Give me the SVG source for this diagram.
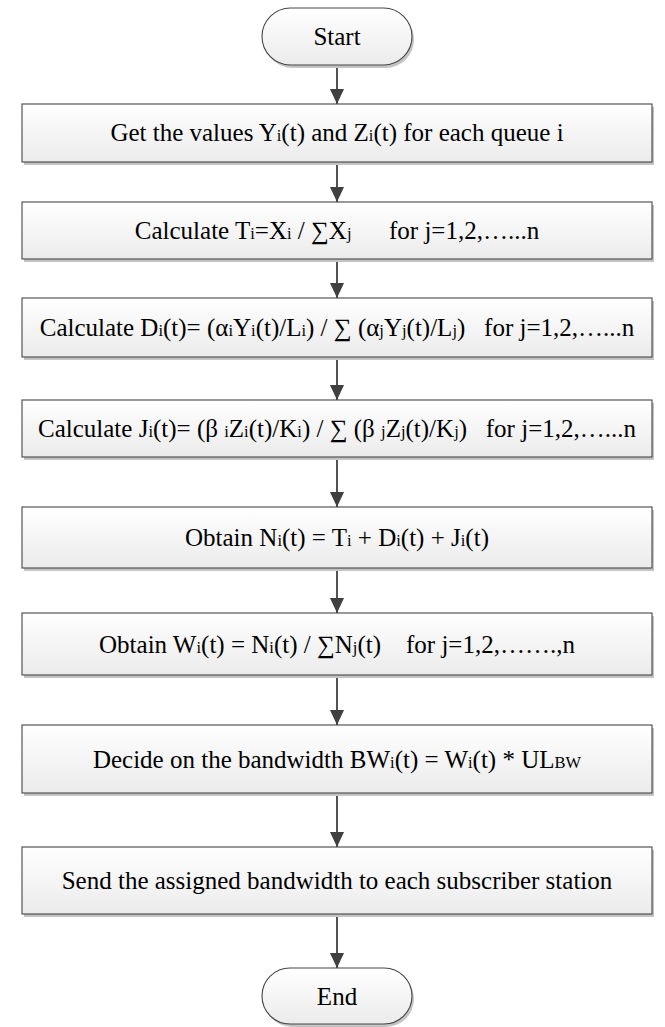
<svg xmlns="http://www.w3.org/2000/svg" width="665" height="1027" viewBox="0 0 665 1027">
<defs>
<linearGradient id="g" x1="0" y1="0" x2="0" y2="1"><stop offset="0" stop-color="#ffffff"/><stop offset="1" stop-color="#ebebeb"/></linearGradient>
<marker id="a" markerWidth="15" markerHeight="14" refX="15" refY="7" orient="auto" markerUnits="userSpaceOnUse"><path d="M0,0 L15,7 L0,14 Z" fill="#404040"/></marker>
</defs>
<style>
.box{fill:url(#g);stroke:#454545;stroke-width:1.1}
.sh{fill:#c4c4c4}
.t{font-family:"Liberation Serif","Times New Roman","DejaVu Serif",serif;font-size:25px;fill:#000;text-anchor:middle}
.s{font-size:16.5px}
.c{stroke:#404040;stroke-width:1.8;fill:none;marker-end:url(#a)}
</style>
<g id="connectors">
<line class="c" x1="337" y1="66" x2="337" y2="104"/>
<line class="c" x1="337" y1="163" x2="337" y2="202"/>
<line class="c" x1="337" y1="260" x2="337" y2="298"/>
<line class="c" x1="337" y1="358" x2="337" y2="400"/>
<line class="c" x1="337" y1="458" x2="337" y2="507"/>
<line class="c" x1="337" y1="569" x2="337" y2="613"/>
<line class="c" x1="337" y1="676" x2="337" y2="725"/>
<line class="c" x1="337" y1="794" x2="337" y2="847"/>
<line class="c" x1="337" y1="915" x2="337" y2="968"/>
</g>
<g id="start">
<rect class="sh" x="264" y="11" width="150" height="57" rx="28.5"/>
<rect class="box" x="262" y="8" width="150" height="57" rx="28.5"/>
<text class="t" x="337" y="45">Start</text>
</g>
<g id="n1">
<rect class="sh" x="24" y="107" width="630" height="58"/>
<rect class="box" x="22" y="104" width="630" height="58"/>
<text class="t" x="337" y="141">Get the values Y<tspan class="s">i</tspan>(t) and Z<tspan class="s">i</tspan>(t) for each queue i</text>
</g>
<g id="n2">
<rect class="sh" x="24" y="205" width="630" height="57"/>
<rect class="box" x="22" y="202" width="630" height="57"/>
<text class="t" x="337" y="239" xml:space="preserve">Calculate T<tspan class="s">i</tspan>=X<tspan class="s">i</tspan> / ∑X<tspan class="s">j</tspan>      for j=1,2,…...n</text>
</g>
<g id="n3">
<rect class="sh" x="24" y="301" width="630" height="59"/>
<rect class="box" x="22" y="298" width="630" height="59"/>
<text class="t" x="337" y="336" xml:space="preserve">Calculate D<tspan class="s">i</tspan>(t)= (α<tspan class="s">i</tspan>Y<tspan class="s">i</tspan>(t)/L<tspan class="s">i</tspan>) / ∑ (α<tspan class="s">j</tspan>Y<tspan class="s">j</tspan>(t)/L<tspan class="s">j</tspan>)   for j=1,2,…...n</text>
</g>
<g id="n4">
<rect class="sh" x="24" y="403" width="630" height="57"/>
<rect class="box" x="22" y="400" width="630" height="57"/>
<text class="t" x="337" y="437" xml:space="preserve">Calculate J<tspan class="s">i</tspan>(t)= (β <tspan class="s">i</tspan>Z<tspan class="s">i</tspan>(t)/K<tspan class="s">i</tspan>) / ∑ (β <tspan class="s">j</tspan>Z<tspan class="s">j</tspan>(t)/K<tspan class="s">j</tspan>)   for j=1,2,…...n</text>
</g>
<g id="n5">
<rect class="sh" x="24" y="510" width="630" height="61"/>
<rect class="box" x="22" y="507" width="630" height="61"/>
<text class="t" x="337" y="546">Obtain N<tspan class="s">i</tspan>(t) = T<tspan class="s">i</tspan> + D<tspan class="s">i</tspan>(t) + J<tspan class="s">i</tspan>(t)</text>
</g>
<g id="n6">
<rect class="sh" x="24" y="616" width="630" height="62"/>
<rect class="box" x="22" y="613" width="630" height="62"/>
<text class="t" x="337" y="653" xml:space="preserve">Obtain W<tspan class="s">i</tspan>(t) = N<tspan class="s">i</tspan>(t) / ∑N<tspan class="s">j</tspan>(t)    for j=1,2,…….,n</text>
</g>
<g id="n7">
<rect class="sh" x="24" y="728" width="630" height="68"/>
<rect class="box" x="22" y="725" width="630" height="68"/>
<text class="t" x="337" y="768">Decide on the bandwidth BW<tspan class="s">i</tspan>(t) = W<tspan class="s">i</tspan>(t) * UL<tspan class="s">BW</tspan></text>
</g>
<g id="n8">
<rect class="sh" x="24" y="850" width="630" height="67"/>
<rect class="box" x="22" y="847" width="630" height="67"/>
<text class="t" x="337" y="889">Send the assigned bandwidth to each subscriber station</text>
</g>
<g id="end">
<rect class="sh" x="264" y="971" width="150" height="56" rx="28"/>
<rect class="box" x="262" y="968" width="150" height="56" rx="28"/>
<text class="t" x="337" y="1005">End</text>
</g>
</svg>
